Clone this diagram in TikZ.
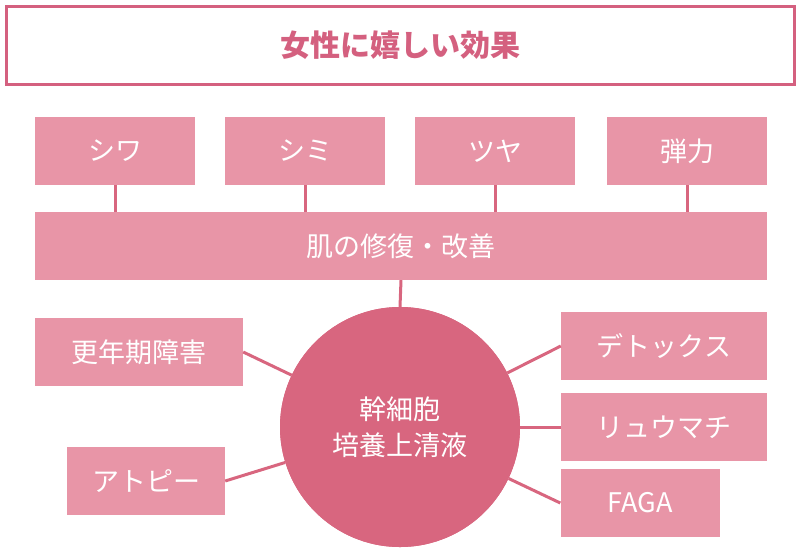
\documentclass[tikz,border=0pt]{standalone}
\usepackage{fontspec}
\setmainfont{Noto Sans CJK JP}
\definecolor{boxpink}{HTML}{E895A7}
\definecolor{deeppink}{HTML}{D8667F}
\definecolor{titlepink}{HTML}{D4607F}
\begin{document}
\begin{tikzpicture}[x=1pt,y=-1pt,
  pbox/.style={fill=boxpink,draw=none,inner sep=0,text=white,font=\fontsize{27}{32}\selectfont},
  link/.style={draw=deeppink,line width=3pt}]
\useasboundingbox (0,0) rectangle (800,550);
\node[draw=titlepink,line width=3pt,fill=white,minimum width=788,minimum height=78,text=titlepink,font=\fontsize{30}{36}\selectfont\bfseries] (title) at (400,45) {女性に嬉しい効果};
\node[pbox,minimum width=160,minimum height=68] (shiwa) at (115,151) {シワ};
\node[pbox,minimum width=160,minimum height=68] (shimi) at (305,151) {シミ};
\node[pbox,minimum width=160,minimum height=68] (tsuya) at (495,151) {ツヤ};
\node[pbox,minimum width=160,minimum height=68] (dan) at (687,151) {弾力};
\node[pbox,minimum width=732,minimum height=68] (bar) at (401,246) {肌の修復・改善};
\foreach \n/\x in {shiwa/115,shimi/305,tsuya/495,dan/687}
  \draw[link] (\n.south) -- (\x,212);
\node[circle,fill=deeppink,minimum size=240,inner sep=0,text=white,align=center,font=\fontsize{27}{36}\selectfont] (c) at (400,427) {幹細胞\\培養上清液};
\draw[link] (bar.south) -- (c.north);
\node[pbox,minimum width=208,minimum height=68] (kou) at (139,352) {更年期障害};
\node[pbox,minimum width=158,minimum height=68] (ato) at (146,481) {アトピー};
\node[pbox,minimum width=206,minimum height=68] (detox) at (664,346) {デトックス};
\node[pbox,minimum width=206,minimum height=68] (ryu) at (664,427) {リュウマチ};
\node[pbox,minimum width=159,minimum height=68] (faga) at (640,503) {FAGA};
\draw[link] (kou.east) -- (c);
\draw[link] (ato.east) -- (c);
\draw[link] (detox.west) -- (c);
\draw[link] (ryu.west) -- (c);
\draw[link] (faga.west) -- (c);
\node[circle,fill=deeppink,minimum size=240,inner sep=0,text=white,align=center,font=\fontsize{27}{36}\selectfont] at (400,427) {幹細胞\\培養上清液};
\end{tikzpicture}
\end{document}
